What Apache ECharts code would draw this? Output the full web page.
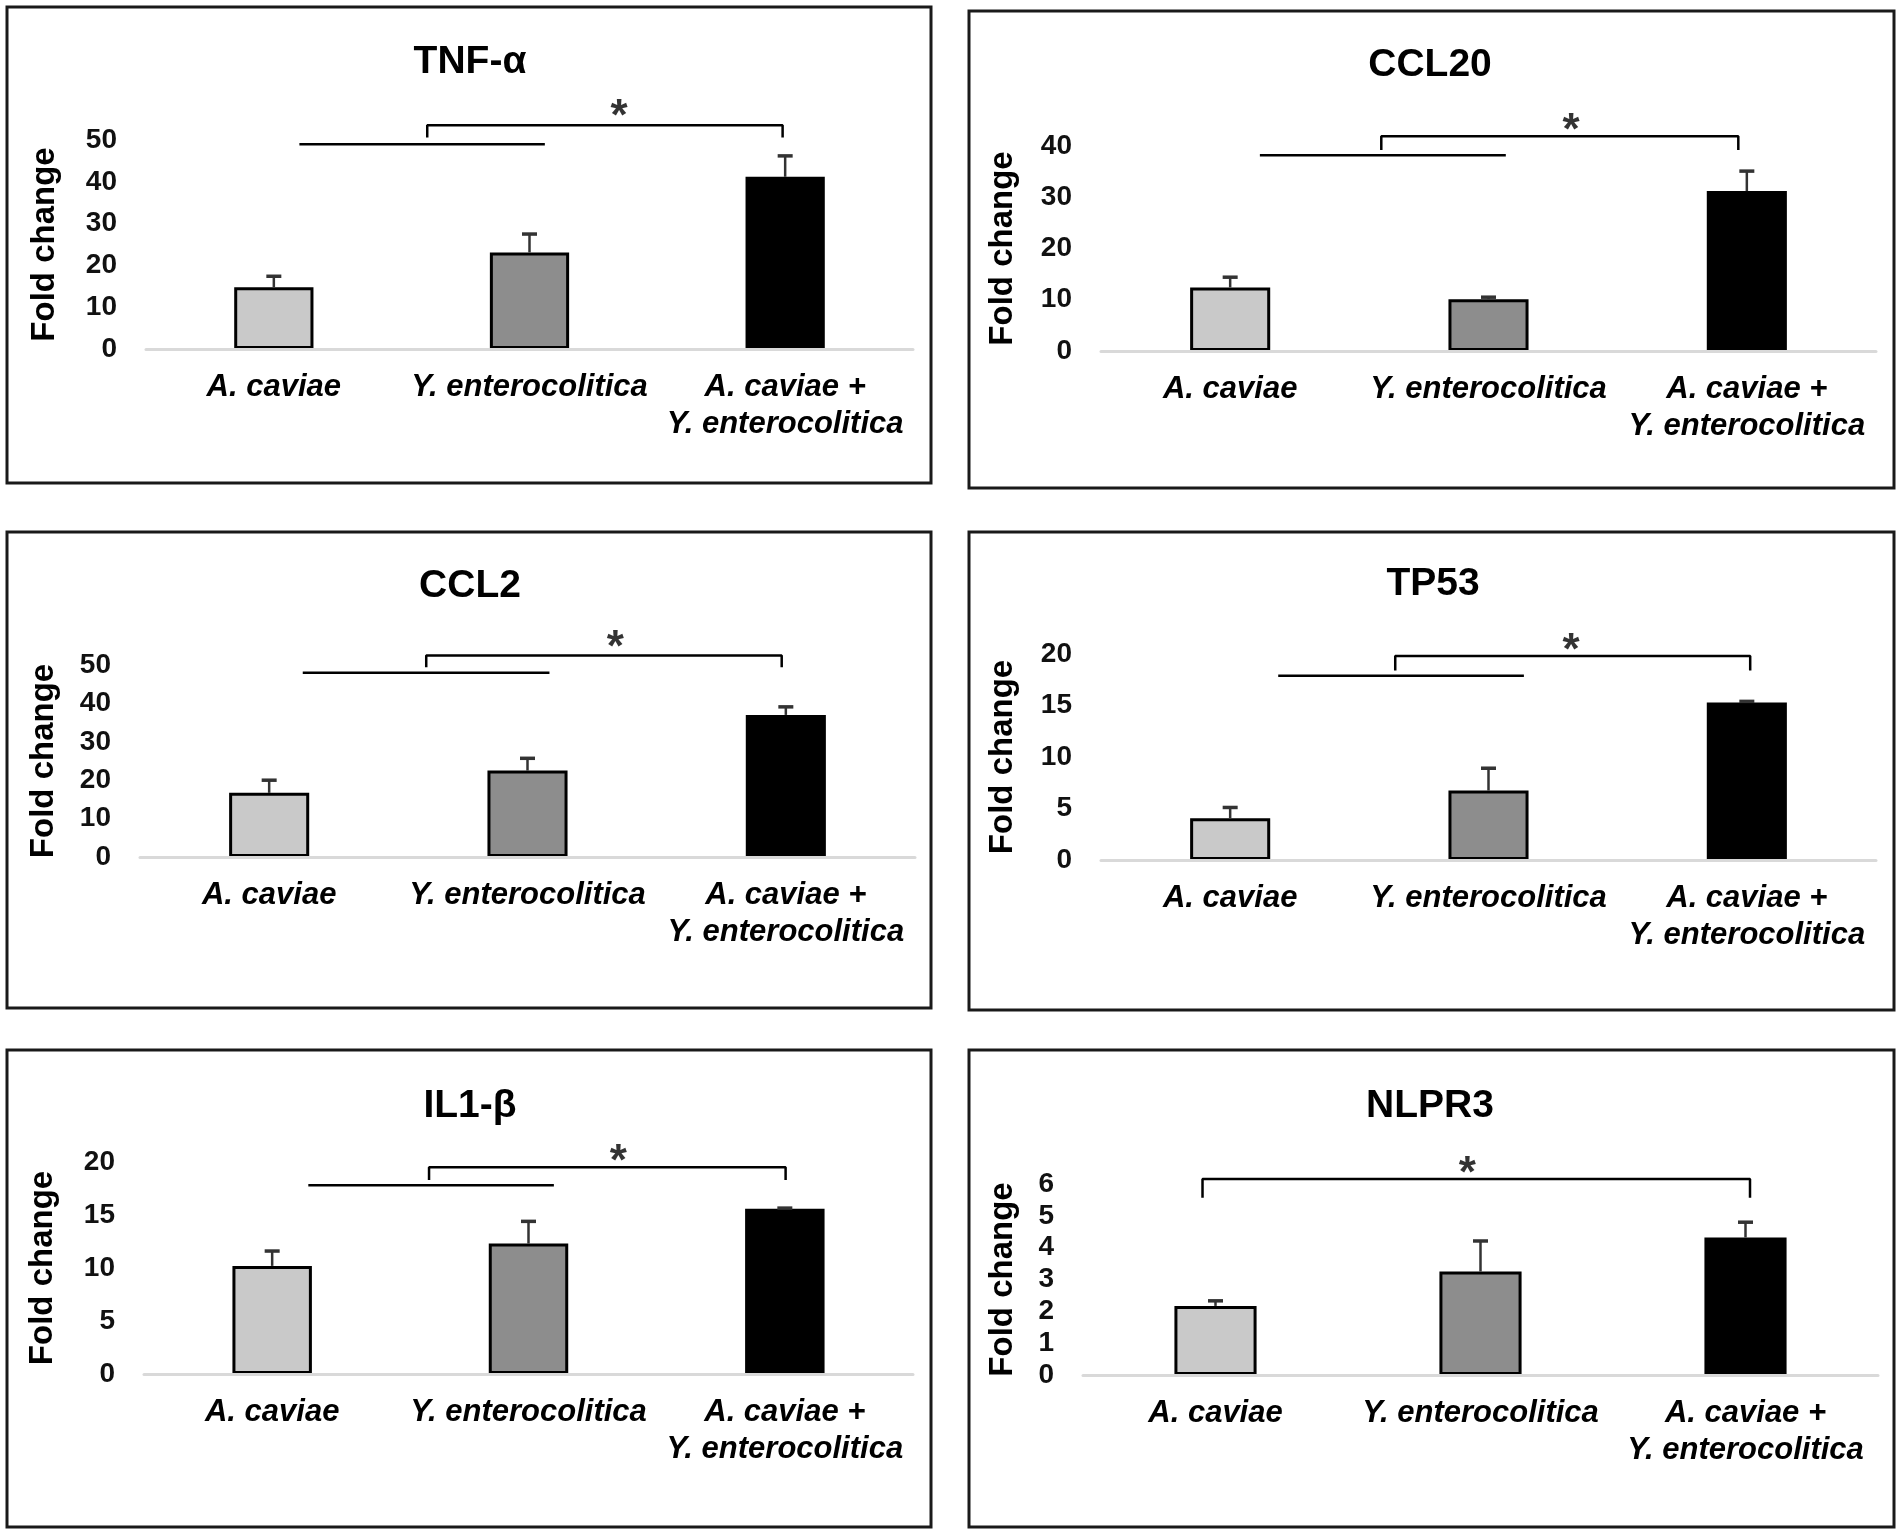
<!DOCTYPE html>
<html><head><meta charset="utf-8">
<script src="https://cdn.jsdelivr.net/npm/echarts@6/dist/echarts.min.js"></script>
<style>html,body{margin:0;padding:0;background:#fff}#c{width:1902px;height:1535px}</style>
</head><body><div id="c"></div>
<script>
// ---------- data ----------
const categories = ['A. caviae', 'Y. enterocolitica', 'A. caviae +\nY. enterocolitica'];
const titles = ['TNF-α', 'CCL20', 'CCL2', 'TP53', 'IL1-β', 'NLPR3'];
const yMax = [50, 40, 50, 20, 20, 6];
const yStep = [10, 10, 10, 5, 5, 1];

const tnfMean = [14.8, 23.1, 41.2];   const tnfErr = [2.6, 4.4, 5.0];
const ccl20Mean = [12.4, 10.1, 31.2]; const ccl20Err = [2.0, 0.4, 3.9];
const ccl2Mean = [16.7, 22.5, 37.0];  const ccl2Err = [3.3, 3.2, 2.1];
const tp53Mean = [4.05, 6.74, 15.3];  const tp53Err = [1.05, 2.17, 0.1];
const il1bMean = [10.2, 12.3, 15.6];  const il1bErr = [1.4, 2.1, 0.05];
const nlpr3Mean = [2.17, 3.25, 4.32]; const nlpr3Err = [0.16, 0.96, 0.48];

// significance annotations (category-coordinate from, to, value)
const tnfGroup = [0.10, 1.06, 49.0];   const tnfBracket = [0.60, 1.99, 53.5, 50.6];   const tnfStar = [1.35, 57.6];
const ccl20Group = [0.115, 1.067, 38.2]; const ccl20Bracket = [0.585, 1.967, 41.9, 39.2]; const ccl20Star = [1.32, 44.7];
const ccl2Group = [0.13, 1.085, 48.0]; const ccl2Bracket = [0.608, 1.984, 52.5, 49.4]; const ccl2Star = [1.34, 56.7];
const tp53Group = [0.186, 1.137, 17.9]; const tp53Bracket = [0.639, 2.013, 19.8, 18.4]; const tp53Star = [1.32, 21.2];
const il1bGroup = [0.141, 1.099, 17.8]; const il1bBracket = [0.612, 2.003, 19.5, 18.3]; const il1bStar = [1.35, 20.9];
const nlpr3Group = null;               const nlpr3Bracket = [-0.049, 2.017, 6.16, 5.57]; const nlpr3Star = [0.95, 6.59];

const means = [tnfMean, ccl20Mean, ccl2Mean, tp53Mean, il1bMean, nlpr3Mean];
const errs = [tnfErr, ccl20Err, ccl2Err, tp53Err, il1bErr, nlpr3Err];
const groups = [tnfGroup, ccl20Group, ccl2Group, tp53Group, il1bGroup, nlpr3Group];
const brackets = [tnfBracket, ccl20Bracket, ccl2Bracket, tp53Bracket, il1bBracket, nlpr3Bracket];
const stars = [tnfStar, ccl20Star, ccl2Star, tp53Star, il1bStar, nlpr3Star];

// ---------- layout / style ----------
const FONT = '"Liberation Sans", Arial, sans-serif';
const grids = [
  {left: 146, top: 140, width: 767, height: 209},
  {left: 1101, top: 146, width: 775, height: 205},
  {left: 140, top: 665, width: 775, height: 192},
  {left: 1101, top: 654, width: 775, height: 206},
  {left: 144, top: 1162, width: 769, height: 212},
  {left: 1083, top: 1184, width: 795, height: 191}
];
const nameGaps = [85, 82, 80, 82, 85, 64];
const boxes = [
  [7, 7, 924, 476], [969, 11, 925, 477],
  [7, 532, 924, 476], [969, 532, 925, 478],
  [7, 1050, 924, 477], [969, 1050, 925, 477]
];
const titlePos = [[470, 62], [1430, 65], [470, 586], [1433, 584], [470, 1106], [1430, 1106]];
const fills = ['#c9c9c9', '#8d8d8d', '#000000'];

const xAxes = [], yAxes = [], series = [], graphics = [];
grids.forEach((g, k) => {
  xAxes.push({
    type: 'category', gridIndex: k, data: categories, z: 5,
    axisLine: {lineStyle: {color: '#d9d9d9', width: 3}},
    axisTick: {show: false},
    axisLabel: {interval: 0, margin: 20, color: '#000', fontFamily: FONT, fontSize: 31,
      fontStyle: 'italic', fontWeight: 'bold', lineHeight: 37, align: 'center'}
  });
  xAxes.push({type: 'value', gridIndex: k, min: -0.5, max: 2.5, show: false});
  yAxes.push({
    type: 'value', gridIndex: k, min: 0, max: yMax[k], interval: yStep[k],
    name: 'Fold change', nameLocation: 'middle', nameRotate: 90, nameGap: nameGaps[k],
    nameTextStyle: {fontFamily: FONT, fontSize: 33, fontWeight: 'bold', color: '#000'},
    axisLine: {show: false}, axisTick: {show: false}, splitLine: {show: false},
    axisLabel: {margin: 29, color: '#111', fontFamily: FONT, fontSize: 28, fontWeight: 'bold'}
  });
  series.push({
    type: 'bar', xAxisIndex: 2 * k, yAxisIndex: k, barWidth: '31%', z: 2,
    data: means[k].map((v, i) => ({value: v, itemStyle: {color: fills[i], borderColor: '#000', borderWidth: i < 2 ? 3 : 0}}))
  });
  series.push({
    type: 'custom', xAxisIndex: 2 * k, yAxisIndex: k, z: 4,
    data: means[k].map((v, i) => [i, v, errs[k][i]]),
    encode: {x: 0, y: 1},
    renderItem: (params, api) => {
      const i = api.value(0), m = api.value(1), e = api.value(2);
      const p0 = api.coord([i, m]), p1 = api.coord([i, m + e]);
      return {type: 'group', children: [
        {type: 'line', shape: {x1: p0[0], y1: p0[1], x2: p1[0], y2: p1[1]}, style: {stroke: '#333', lineWidth: 2.5}},
        {type: 'line', shape: {x1: p1[0] - 7.5, y1: p1[1], x2: p1[0] + 7.5, y2: p1[1]}, style: {stroke: '#333', lineWidth: 3.5}}
      ]};
    }
  });
  const lineStyle = {color: '#000', width: 2.5};
  if (groups[k]) {
    const gr = groups[k];
    series.push({type: 'line', xAxisIndex: 2 * k + 1, yAxisIndex: k, clip: false, symbol: 'none', silent: true,
      lineStyle, data: [[gr[0], gr[2]], [gr[1], gr[2]]]});
  }
  const b = brackets[k];
  series.push({type: 'line', xAxisIndex: 2 * k + 1, yAxisIndex: k, clip: false, symbol: 'none', silent: true,
    lineStyle, data: [[b[0], b[3]], [b[0], b[2]], [b[1], b[2]], [b[1], b[3]]]});
  series.push({type: 'scatter', xAxisIndex: 2 * k + 1, yAxisIndex: k, clip: false, symbolSize: 1, silent: true,
    itemStyle: {color: 'rgba(0,0,0,0)'},
    label: {show: true, position: 'inside', formatter: '*', fontFamily: FONT, fontSize: 44, fontWeight: 'bold', color: '#000', offset: [0, 10]},
    data: [stars[k]]});
  const bx = boxes[k];
  graphics.push({type: 'rect', shape: {x: bx[0], y: bx[1], width: bx[2], height: bx[3]},
    style: {fill: 'none', stroke: '#1a1a1a', lineWidth: 3}, z: 10});
  graphics.push({type: 'text', x: titlePos[k][0], y: titlePos[k][1], z: 10,
    style: {text: titles[k], fontFamily: FONT, fontSize: 39, fontWeight: 'bold', fill: '#000', textAlign: 'center', textVerticalAlign: 'middle'}});
});

const chart = echarts.init(document.getElementById('c'));
chart.setOption({
  animation: false,
  backgroundColor: '#fff',
  grid: grids,
  xAxis: xAxes,
  yAxis: yAxes,
  series: series,
  graphic: graphics
});
</script></body></html>
